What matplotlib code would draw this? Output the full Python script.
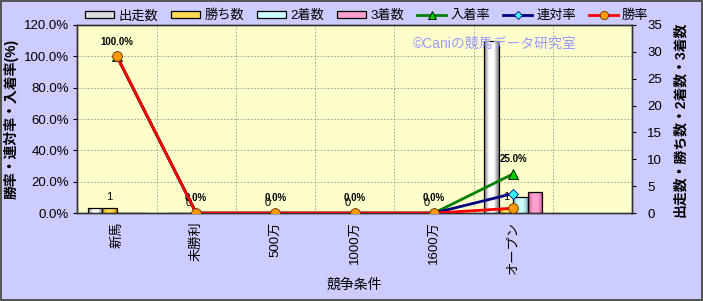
import numpy as np
import matplotlib
matplotlib.use('Agg')
import matplotlib.pyplot as plt
from matplotlib.colors import LinearSegmentedColormap
from matplotlib.patches import Patch
from matplotlib.lines import Line2D

plt.rcParams['font.family'] = ['Liberation Sans', 'Noto Sans CJK JP', 'DejaVu Sans']

categories = ['新馬', '未勝利', '500万', '1000万', '1600万', 'オープン', '']
starts = [1, 0, 0, 0, 0, 32]
wins = [1, 0, 0, 0, 0, 1]
seconds = [0, 0, 0, 0, 0, 3]
thirds = [0, 0, 0, 0, 0, 4]
win_rate = [100.0, 0.0, 0.0, 0.0, 0.0, 3.1]
quinella_rate = [100.0, 0.0, 0.0, 0.0, 0.0, 12.5]
place_rate = [100.0, 0.0, 0.0, 0.0, 0.0, 25.0]

bar_series = [('出走数', starts, '#7a7a7a', '#ffffff'),
              ('勝ち数', wins, '#c89600', '#ffdd55'),
              ('2着数', seconds, '#88bbbb', '#ccffff'),
              ('3着数', thirds, '#c05a90', '#ff9fd0')]


def gradient_bars(ax, bars, dark, light):
    cmap = LinearSegmentedColormap.from_list('g', [dark, light, light, dark])
    grad = np.linspace(0, 1, 64).reshape(1, -1)
    for b in bars:
        if b.get_height() <= 0:
            continue
        x0, y0 = b.get_x(), b.get_y()
        im = ax.imshow(grad, cmap=cmap, aspect='auto', zorder=b.get_zorder() - 0.1,
                       extent=(x0, x0 + b.get_width(), y0, y0 + b.get_height()))
        im.set_clip_path(b)
        b.set_facecolor('none')


fig = plt.figure(figsize=(7.03, 3.01), dpi=100)
fig.patch.set_facecolor('#ccccff')
fig.patch.set_edgecolor('#555555')
fig.patch.set_linewidth(1.5)

ax2 = fig.add_axes([0.110, 0.292, 0.789, 0.625])
ax = ax2.twinx()
ax.yaxis.tick_left()
ax.yaxis.set_label_position('left')
ax2.yaxis.tick_right()
ax2.yaxis.set_label_position('right')
ax.set_zorder(ax2.get_zorder() + 1)
ax.patch.set_visible(False)
ax2.set_facecolor('#ffffcc')

x = np.arange(len(starts))
w = 0.183
for i, (name, vals, dark, light) in enumerate(bar_series):
    bars = ax2.bar(x + (i - 1.5) * w, vals, w, edgecolor='black', linewidth=0.9,
                   zorder=3, label=name)
    gradient_bars(ax2, bars, dark, light)

# labels on win counts
for xi, v in zip(x, wins):
    ax2.annotate(str(v), (xi - 0.5 * w, v), xytext=(0, 4), textcoords='offset points',
                 ha='center', va='bottom', fontsize=8)

ax2.set_xlim(-0.5, 6.5)
ax2.set_ylim(0, 35)
ax2.set_yticks(range(0, 36, 5))
for t in range(20, 120, 20):
    ax2.axhline(t * 35 / 120, color='#999999', lw=0.6, ls=(0, (2, 2)), zorder=1)
for b in np.arange(0.5, 6.5, 1):
    ax2.axvline(b, color='#999999', lw=0.6, ls=(0, (2, 2)), zorder=1)

ax.plot(x, place_rate, color='#008000', lw=2, marker='^', ms=7,
        mfc='#00cc00', mec='black', mew=0.6, zorder=4, label='入着率')
ax.plot(x, quinella_rate, color='#000080', lw=2, marker='D', ms=5,
        mfc='#33ffff', mec='#000080', mew=0.6, zorder=5, label='連対率')
ax.plot(x, win_rate, color='#ff0000', lw=2, marker='o', ms=7,
        mfc='#ff9900', mec='#663300', mew=0.6, zorder=6, label='勝率')

for xi, v in zip(x, place_rate):
    ax.annotate('{:.1f}%'.format(v), (xi, v), xytext=(0, 7), textcoords='offset points',
                ha='center', va='bottom', fontsize=7, fontweight='bold')

ax.set_ylim(0, 120)
ax.set_yticks(range(0, 121, 20))
ax.set_yticklabels(['{:.1f}%'.format(t) for t in range(0, 121, 20)])
ax.set_xlim(-0.5, 6.5)

ax2.set_xticks(np.arange(len(categories)))
ax2.set_xticklabels(categories, rotation=90, fontsize=9.5)
ax2.tick_params(axis='x', length=0, pad=6)
ax2.tick_params(axis='y', labelsize=9.5, direction='out', length=3, pad=8)
ax.tick_params(axis='y', labelsize=9.5, direction='out', length=3, pad=3)
for a in (ax, ax2):
    for s in a.spines.values():
        s.set_color('#333333')
        s.set_linewidth(1)

ax.set_ylabel('勝率・連対率・入着率(%)', fontsize=10, fontweight='bold', labelpad=4)
ax2.set_ylabel('出走数・勝ち数・2着数・3着数', fontsize=10, fontweight='bold',
               rotation=90, labelpad=8)
fig.text(0.504, 1 - 285 / 301, '競争条件', ha='center', va='center', fontsize=10)
fig.text(495 / 703, 1 - 44 / 301, '©Caniの競馬データ研究室', color='#9999ff',
         ha='center', va='center', fontsize=10)

handles = [Patch(facecolor=light, edgecolor='black', lw=0.9) for _, _, _, light in bar_series]
handles[0].set_facecolor('#dddddd')
handles += [Line2D([], [], color='#008000', lw=2, marker='^', ms=6, mfc='#00cc00', mec='black', mew=0.6),
            Line2D([], [], color='#000080', lw=2, marker='D', ms=4, mfc='#33ffff', mec='#000080', mew=0.6),
            Line2D([], [], color='#ff0000', lw=2, marker='o', ms=6, mfc='#ff9900', mec='#663300', mew=0.6)]
labels = [s[0] for s in bar_series] + ['入着率', '連対率', '勝率']
fig.legend(handles, labels, loc='center left', bbox_to_anchor=(80 / 703, 1 - 16 / 301),
           ncol=7, frameon=False, fontsize=9.5, handlelength=2.2, handleheight=0.5,
           handletextpad=0.3, columnspacing=1.0, borderaxespad=0)

fig.savefig('out.png', dpi=100, facecolor=fig.get_facecolor(), edgecolor=fig.get_edgecolor())
